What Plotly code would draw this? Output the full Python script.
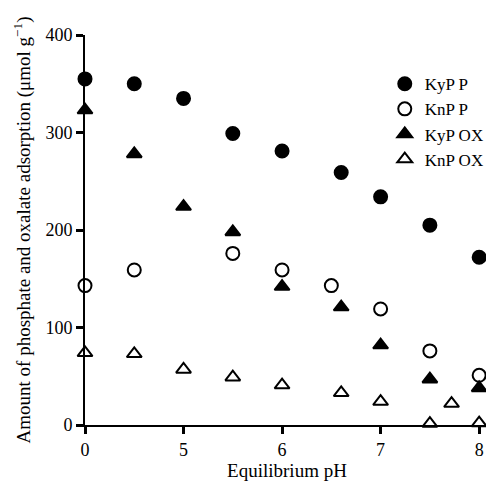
import plotly.graph_objects as go

# Data
ph_kyp_p = [4.0, 4.5, 5.0, 5.5, 6.0, 6.6, 7.0, 7.5, 8.0]
kyp_p = [355, 350, 335, 299, 281, 259, 234, 205, 172]

ph_knp_p = [4.0, 4.5, 5.5, 6.0, 6.5, 7.0, 7.5, 8.0]
knp_p = [143, 159, 176, 159, 143, 119, 76, 51]

ph_kyp_ox = [4.0, 4.5, 5.0, 5.5, 6.0, 6.6, 7.0, 7.5, 8.0]
kyp_ox = [323, 278, 224, 198, 142, 121, 82, 47, 38]

ph_knp_ox = [4.0, 4.5, 5.0, 5.5, 6.0, 6.6, 7.0, 7.5, 7.72, 8.0]
knp_ox = [74, 73, 57, 49, 41, 33, 24, 1.5, 22, 2]

x_tickvals = [4, 5, 6, 7, 8]
x_ticktext = ["0", "5", "6", "7", "8"]
y_tickvals = [0, 100, 200, 300, 400]

FONT = "Liberation Serif"

fig = go.Figure()
series = [
    ("KyP P", ph_kyp_p, kyp_p, "circle"),
    ("KnP P", ph_knp_p, knp_p, "circle-open"),
    ("KyP OX", ph_kyp_ox, kyp_ox, "triangle-up"),
    ("KnP OX", ph_knp_ox, knp_ox, "triangle-up-open"),
]
for name, xs, ys, sym in series:
    fig.add_trace(go.Scatter(
        x=xs, y=ys, mode="markers", name=name, cliponaxis=False,
        marker=dict(symbol=sym, size=13, color="black",
                    line=dict(color="black", width=2)),
    ))

fig.update_layout(
    width=486, height=475,
    margin=dict(l=77, r=5, t=27, b=58, autoexpand=False),
    paper_bgcolor="white", plot_bgcolor="white",
    font=dict(family=FONT, size=18, color="black"),
    showlegend=True,
    legend=dict(x=0.742, y=0.92, xanchor="left", yanchor="top",
                bgcolor="rgba(0,0,0,0)", font=dict(family=FONT, size=17),
                itemwidth=30, tracegroupgap=0),
    xaxis=dict(
        range=[4, 8.1], tickvals=x_tickvals, ticktext=x_ticktext,
        showline=True, linecolor="black", linewidth=2,
        ticks="outside", ticklen=7, tickwidth=3, tickcolor="black",
        showgrid=False, zeroline=False,
        title=dict(text="Equilibrium pH", font=dict(size=19), standoff=4),
        tickfont=dict(size=18),
    ),
    yaxis=dict(
        range=[0, 400], tickvals=y_tickvals,
        showline=True, linecolor="black", linewidth=2,
        ticks="outside", ticklen=7, tickwidth=3, tickcolor="black",
        showgrid=False, zeroline=False,
        title=dict(text="Amount of phosphate and oxalate adsorption (μmol g<sup>−1</sup>)",
                   font=dict(size=19), standoff=10),
        tickfont=dict(size=18),
    ),
)

fig.write_html("out.html")
